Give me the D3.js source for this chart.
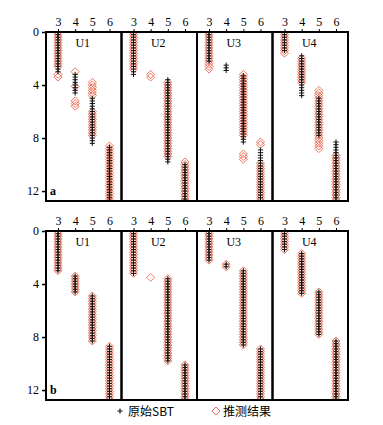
<!DOCTYPE html>
<html>
<head>
<meta charset="utf-8">
<script src="https://cdn.jsdelivr.net/npm/d3@7"></script>
<style>
  body { margin: 0; background: #fff; }
  svg { display: block; }
</style>
</head>
<body>
<div id="chart"></div>
<script>
const width = 383;
const height = 425;

// data: depth intervals (m) sampled every `step`, per unit and SBT class
const units = ["U1", "U2", "U3", "U4"];
const classes = [3, 4, 5, 6];
const depthTicks = [0, 4, 8, 12];
const step = 0.2;

// panel a
const sbtA = [
  [[[0, 3.0]], [[3.2, 4.6]], [[5.0, 8.4]], [[8.7, 12.8]]],
  [[[0, 3.2]], [], [[3.6, 9.8]], [[10.0, 12.8]]],
  [[[0, 2.2]], [[2.5, 2.9]], [[3.3, 8.4]], [[8.9, 12.8]]],
  [[[0, 1.4]], [[1.8, 4.8]], [[5.0, 7.9]], [[8.3, 12.8]]]
];
const estA = [
  [[[0, 2.6], [3.2, 3.4]], [[3.0, 3.0], [4.1, 4.1], [5.2, 5.6]], [[3.8, 4.8], [6.0, 7.8]], [[8.6, 12.8]]],
  [[[0, 2.9]], [[3.2, 3.4]], [[3.8, 9.4]], [[9.8, 12.8]]],
  [[[0, 2.8]], [], [[3.2, 7.9], [9.2, 9.6]], [[8.3, 8.6], [9.9, 12.8]]],
  [[[0, 1.6]], [[2.0, 3.9]], [[4.4, 8.8]], [[9.3, 12.8]]]
];

// panel b
const sbtB = [
  [[[0, 3.0]], [[3.4, 4.6]], [[4.9, 8.4]], [[8.7, 12.8]]],
  [[[0, 3.2]], [], [[3.6, 9.8]], [[10.1, 12.8]]],
  [[[0, 2.2]], [[2.5, 2.7]], [[3.0, 8.6]], [[8.9, 12.8]]],
  [[[0, 1.5]], [[1.7, 4.8]], [[4.6, 7.8]], [[8.3, 12.8]]]
];
const estB = [
  [[[0, 3.0]], [[3.4, 4.6]], [[4.9, 8.4]], [[8.7, 12.8]]],
  [[[0, 3.2]], [[3.5, 3.5]], [[3.6, 9.8]], [[10.1, 12.8]]],
  [[[0, 2.2]], [[2.5, 2.7]], [[3.0, 8.6]], [[8.9, 12.8]]],
  [[[0, 1.5]], [[1.7, 4.8]], [[4.6, 7.8]], [[8.3, 12.8]]]
];

const panelsData = [
  { id: "a", top: 32, sbt: sbtA, est: estA },
  { id: "b", top: 231, sbt: sbtB, est: estB }
];

const serif = "'Liberation Serif', 'DejaVu Serif', serif";
const cjk = "'Noto Sans CJK SC', sans-serif";
const diamondColor = "#ee6a50";

const svg = d3.select("#chart").append("svg")
  .attr("width", width)
  .attr("height", height);

const xBand = d3.scaleBand().domain(units).range([46, 348]).paddingInner(0);
const x = d3.scaleLinear().domain([2.3, 6.7]).range([0, xBand.bandwidth()]);
const panelH = 169;

// expand intervals into sample points
function points(series) {
  const out = [];
  series.forEach((unitCols, ui) => {
    unitCols.forEach((intervals, ci) => {
      intervals.forEach(([a, b]) => {
        d3.range(a, b + 1e-6, step).forEach(d => out.push({ unit: units[ui], cls: classes[ci], depth: d }));
      });
    });
  });
  return out;
}

const diamond = "M0,-4L4,0L0,4L-4,0Z";
const cross = "M-2.6,0H2.6M0,-2.6V2.6";

panelsData.forEach(p => {
  const y = d3.scaleLinear().domain([0, 12.75]).range([p.top, p.top + panelH]);
  const g = svg.append("g");

  units.forEach((u, ui) => {
    const x0 = xBand(u);
    const clipId = `clip-${p.id}-${ui}`;
    g.append("clipPath").attr("id", clipId)
      .append("rect")
      .attr("x", x0).attr("y", p.top)
      .attr("width", xBand.bandwidth()).attr("height", panelH);

    const cell = g.append("g").attr("clip-path", `url(#${clipId})`);

    cell.selectAll("path.est")
      .data(points(p.est).filter(d => d.unit === u))
      .join("path")
      .attr("class", "est")
      .attr("d", diamond)
      .attr("transform", d => `translate(${x0 + x(d.cls)},${y(d.depth)})`)
      .attr("fill", "none")
      .attr("stroke", diamondColor)
      .attr("stroke-width", 0.9);

    cell.selectAll("path.sbt")
      .data(points(p.sbt).filter(d => d.unit === u))
      .join("path")
      .attr("class", "sbt")
      .attr("d", cross)
      .attr("transform", d => `translate(${x0 + x(d.cls)},${y(d.depth)})`)
      .attr("fill", "none")
      .attr("stroke", "#111")
      .attr("stroke-width", 1);

    // top axis for each unit
    const top = g.append("g")
      .attr("transform", `translate(${x0},${p.top})`)
      .call(d3.axisTop(x).tickValues(classes).tickSize(3).tickSizeOuter(0).tickFormat(d3.format("d")));
    top.select(".domain").remove();
    top.selectAll("line").attr("stroke", "#000");
    top.selectAll("text")
      .attr("font-family", serif)
      .attr("font-size", 12)
      .attr("fill", "#000");

    g.append("text")
      .attr("x", x0 + xBand.bandwidth() / 2 - 1)
      .attr("y", p.top + 15)
      .attr("text-anchor", "middle")
      .attr("font-family", serif)
      .attr("font-size", 12)
      .text(u);

    g.append("rect")
      .attr("x", x0).attr("y", p.top)
      .attr("width", xBand.bandwidth()).attr("height", panelH)
      .attr("fill", "none")
      .attr("stroke", "#000")
      .attr("stroke-width", 2);
  });

  const left = g.append("g")
    .attr("transform", `translate(46,0)`)
    .call(d3.axisLeft(y).tickValues(depthTicks).tickSize(4).tickSizeOuter(0));
  left.select(".domain").remove();
  left.selectAll("line").attr("stroke", "#000").attr("stroke-width", 1.5);
  left.selectAll("text")
    .attr("font-family", serif)
    .attr("font-size", 12)
    .attr("fill", "#000");

  g.append("text")
    .attr("x", 50)
    .attr("y", p.top + 163)
    .attr("font-family", serif)
    .attr("font-size", 12)
    .attr("font-weight", "bold")
    .text(p.id);
});

// legend
const legend = svg.append("g");
legend.append("path")
  .attr("d", cross)
  .attr("transform", "translate(120,411)")
  .attr("stroke", "#111")
  .attr("stroke-width", 1.2);
legend.append("text")
  .attr("x", 128).attr("y", 416)
  .attr("font-family", cjk)
  .attr("font-size", 12)
  .text("原始SBT");
legend.append("path")
  .attr("d", diamond)
  .attr("transform", "translate(216,411)")
  .attr("fill", "none")
  .attr("stroke", diamondColor)
  .attr("stroke-width", 1);
legend.append("text")
  .attr("x", 223).attr("y", 416)
  .attr("font-family", cjk)
  .attr("font-size", 12)
  .text("推测结果");
</script>
</body>
</html>
